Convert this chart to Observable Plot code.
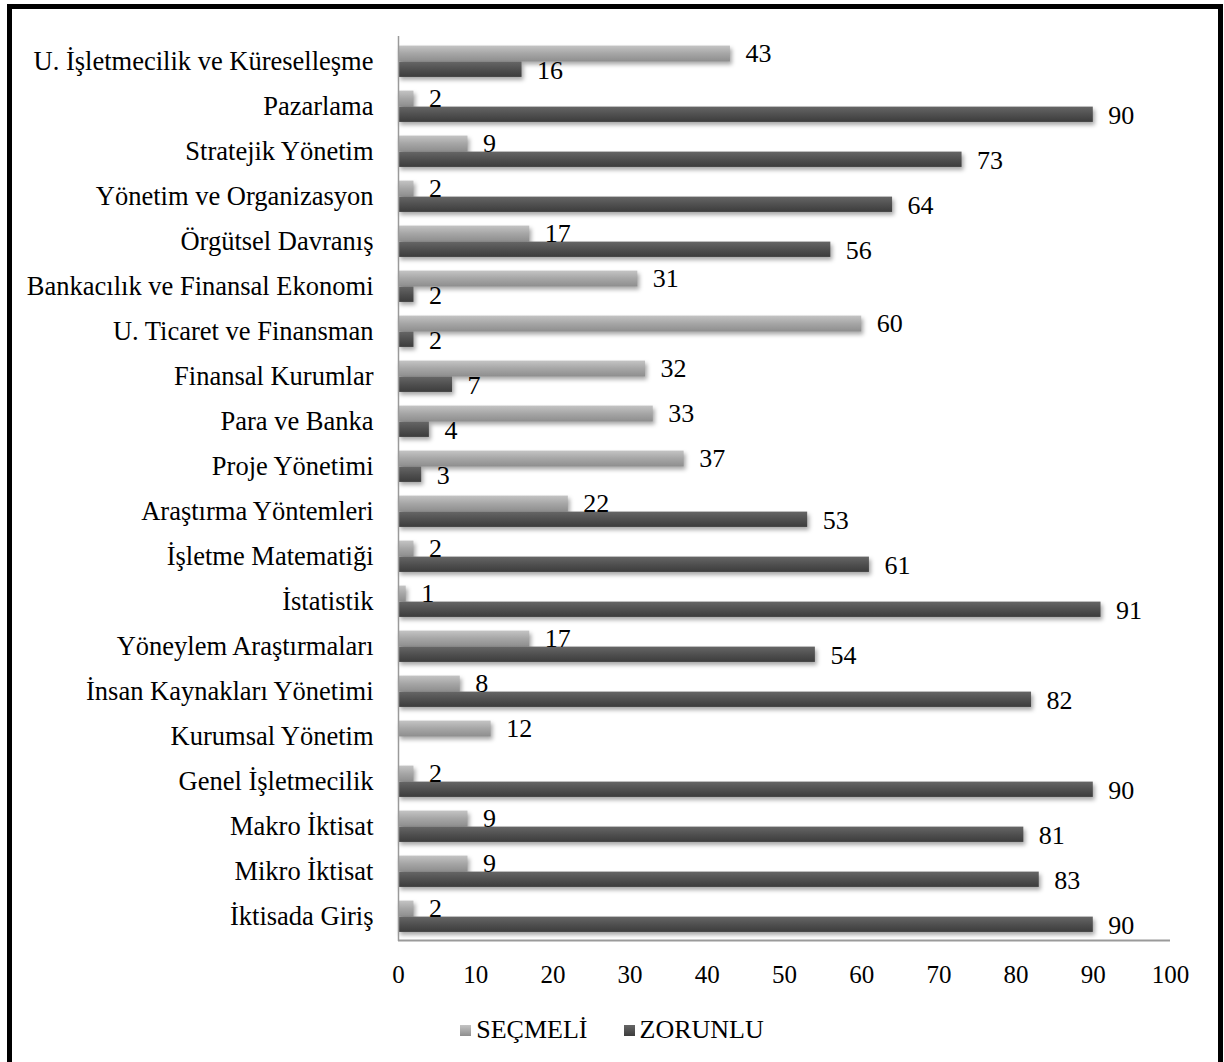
<!DOCTYPE html>
<html>
<head>
<meta charset="utf-8">
<script src="https://cdn.jsdelivr.net/npm/d3@7"></script>
<script src="https://cdn.jsdelivr.net/npm/@observablehq/plot@0.6"></script>
<style>
  html, body { margin: 0; padding: 0; background: #fff; overflow: hidden; width: 1224px; height: 1062px; }
  #frame { position: absolute; left: 7px; top: 4px; width: 1206px; height: 1120px; border: 5px solid #000; border-bottom: none; box-sizing: content-box; }
  #chart { position: absolute; left: 0; top: 0; }
  #legend { position: absolute; top: 1015px; left: 0; width: 1224px; display: flex; justify-content: center; align-items: center;
            font-family: "Liberation Serif", "Times New Roman", serif; font-size: 26px; color: #000; }
  .item { display: flex; align-items: center; margin: 0 18px; }
  .sw { width: 11px; height: 11px; margin-right: 5px; }
  g[aria-label="bar"] { filter: drop-shadow(2px 3px 2px rgba(0,0,0,0.35)); }
</style>
</head>
<body>
<div id="frame"></div>
<div id="chart"></div>
<div id="legend"></div>
<script>
const categories = [
  "U. İşletmecilik ve Küreselleşme",
  "Pazarlama",
  "Stratejik Yönetim",
  "Yönetim ve Organizasyon",
  "Örgütsel Davranış",
  "Bankacılık ve Finansal Ekonomi",
  "U. Ticaret ve Finansman",
  "Finansal Kurumlar",
  "Para ve Banka",
  "Proje Yönetimi",
  "Araştırma Yöntemleri",
  "İşletme Matematiği",
  "İstatistik",
  "Yöneylem Araştırmaları",
  "İnsan Kaynakları Yönetimi",
  "Kurumsal Yönetim",
  "Genel İşletmecilik",
  "Makro İktisat",
  "Mikro İktisat",
  "İktisada Giriş"
];
const secmeli = [43, 2, 9, 2, 17, 31, 60, 32, 33, 37, 22, 2, 1, 17, 8, 12, 2, 9, 9, 2];
const zorunlu = [16, 90, 73, 64, 56, 2, 2, 7, 4, 3, 53, 61, 91, 54, 82, null, 90, 81, 83, 90];
const seriesNames = ["SEÇMELİ", "ZORUNLU"];
const xTicks = [0, 10, 20, 30, 40, 50, 60, 70, 80, 90, 100];

const secData = categories.map((c, i) => ({cat: c, v: secmeli[i]})).filter(d => d.v != null);
const zorData = categories.map((c, i) => ({cat: c, v: zorunlu[i]})).filter(d => d.v != null);

const half = 22.6, barH = 16;
const font = "Liberation Serif";

const plot = Plot.plot({
  width: 1224,
  height: 1000,
  marginLeft: 398,
  marginRight: 54,
  marginTop: 36,
  marginBottom: 59,
  style: {fontFamily: font, fontSize: "26px", color: "#000", background: "transparent", overflow: "visible"},
  x: {domain: [0, 100]},
  y: {domain: categories, padding: 0},
  marks: [
    Plot.barX(secData, {x: "v", y: "cat", fill: "url(#gSec)", insetTop: half - barH, insetBottom: half}),
    Plot.barX(zorData, {x: "v", y: "cat", fill: "url(#gZor)", insetTop: half, insetBottom: half - barH + 0.5}),
    Plot.ruleX([0], {stroke: "#9a9a9a", strokeWidth: 1.5}),
    Plot.ruleY([categories[categories.length - 1]], {dy: half + 1, stroke: "#9a9a9a", strokeWidth: 2}),
    Plot.text(secData, {x: "v", y: "cat", text: d => String(d.v), dx: 15, dy: -8, textAnchor: "start", fontSize: 26, fill: "#000"}),
    Plot.text(zorData, {x: "v", y: "cat", text: d => String(d.v), dx: 15, dy: 9, textAnchor: "start", fontSize: 26, fill: "#000"}),
    Plot.axisX({ticks: xTicks, tickSize: 0, tickPadding: 24, fontSize: 25, label: null}),
    Plot.axisY({tickSize: 0, tickPadding: 25, fontSize: 26.5, label: null})
  ]
});

const svg = d3.select(plot);
const defs = svg.insert("defs", ":first-child");
function grad(id, stops) {
  const g = defs.append("linearGradient").attr("id", id).attr("x1", 0).attr("y1", 0).attr("x2", 0).attr("y2", 1);
  stops.forEach(([o, c]) => g.append("stop").attr("offset", o).attr("stop-color", c));
}
grad("gSec", [[0, "#c4c4c4"], [0.5, "#a6a6a6"], [1, "#8e8e8e"]]);
grad("gZor", [[0, "#666666"], [0.5, "#505050"], [1, "#3c3c3c"]]);
document.getElementById("chart").appendChild(plot);

const swatchBg = ["linear-gradient(#c4c4c4, #8e8e8e)", "linear-gradient(#666666, #3c3c3c)"];
const legend = d3.select("#legend");
seriesNames.forEach((name, i) => {
  const it = legend.append("div").attr("class", "item");
  it.append("div").attr("class", "sw").style("background", swatchBg[i]);
  it.append("span").text(name);
});
</script>
</body>
</html>
